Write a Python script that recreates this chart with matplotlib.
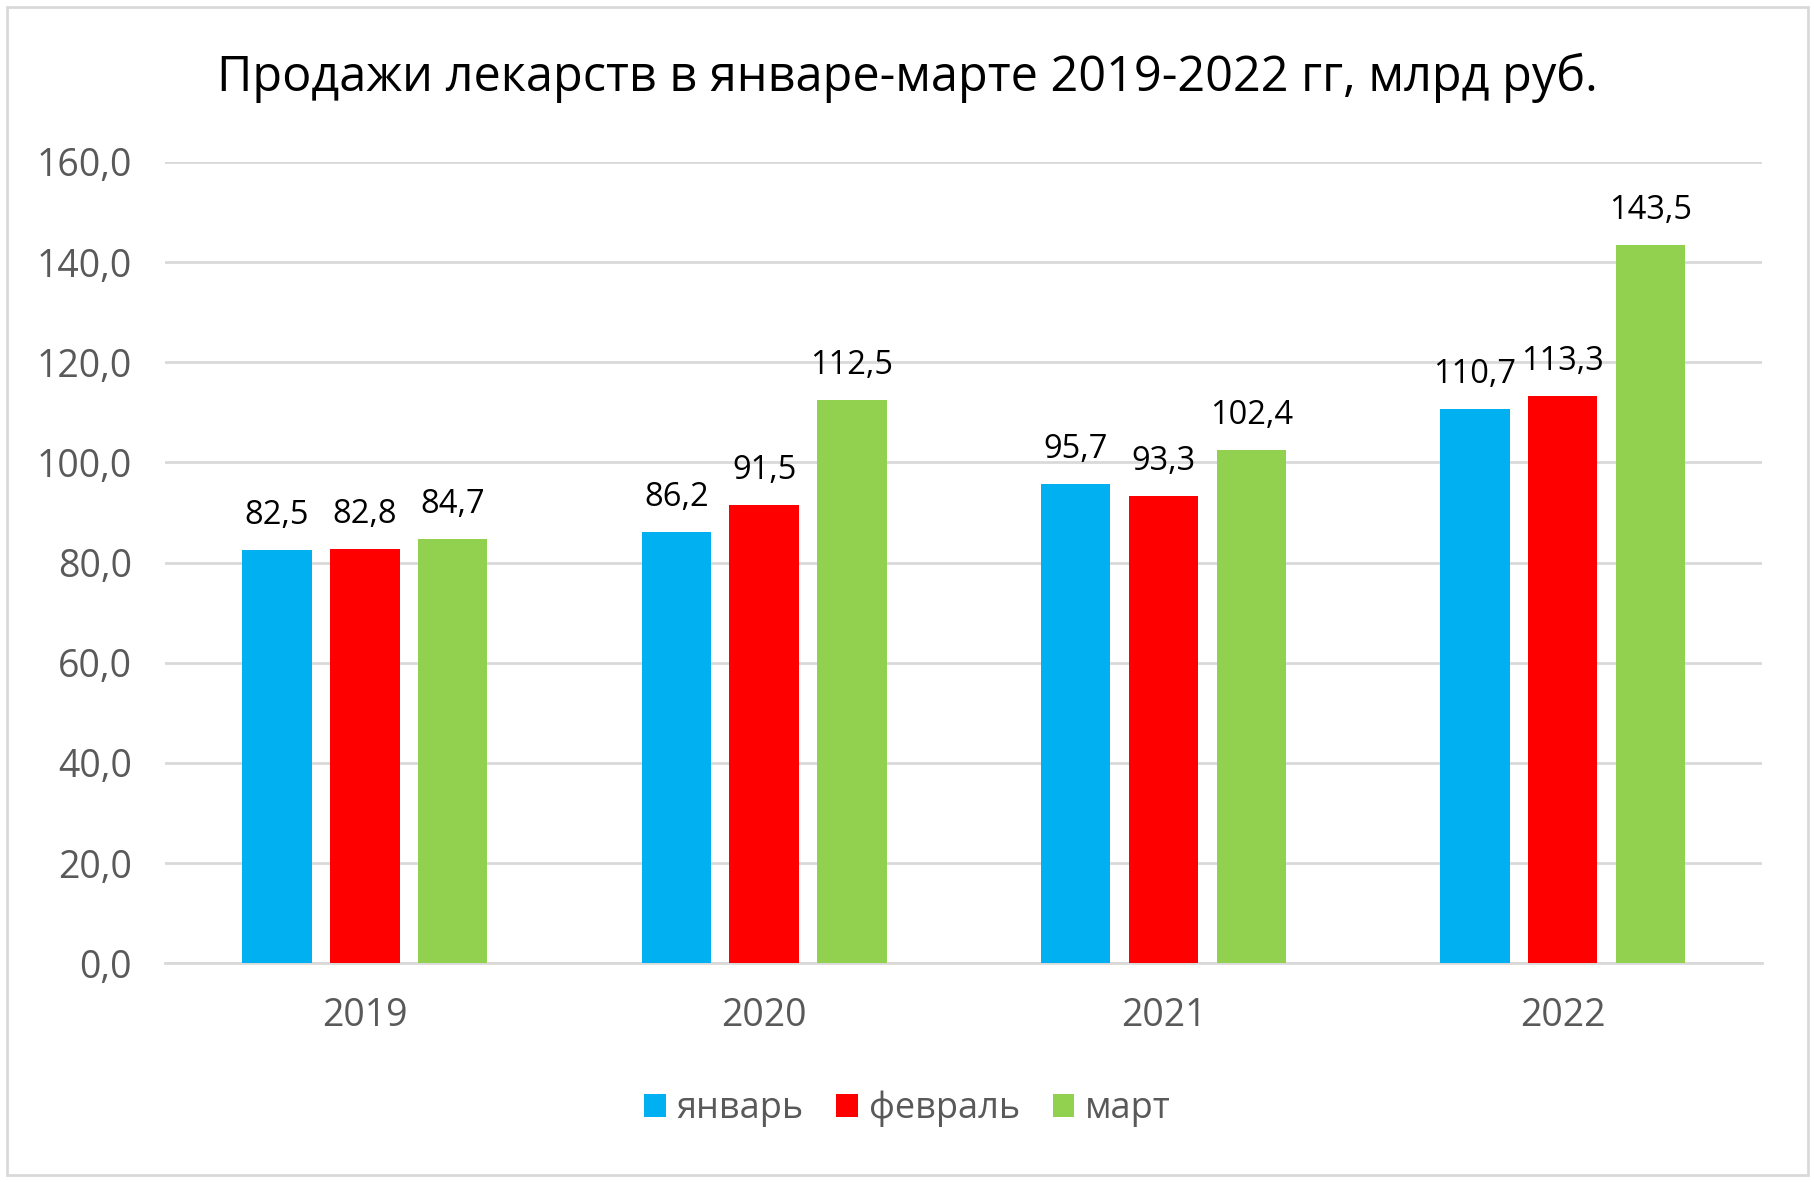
import numpy as np
import matplotlib.pyplot as plt
from matplotlib.patches import Rectangle

# Sales data, bln rub
years = ['2019', '2020', '2021', '2022']
months = ['январь', 'февраль', 'март']
jan = [82.5, 86.2, 95.7, 110.7]
feb = [82.8, 91.5, 93.3, 113.3]
mar = [84.7, 112.5, 102.4, 143.5]
colors = ['#00B0F0', '#FF0000', '#92D050']

plt.rcParams['font.family'] = ['Open Sans', 'DejaVu Sans']

fig = plt.figure(figsize=(18.15, 11.82), dpi=100)
ax = fig.add_axes([0.091, 0.185, 0.88, 0.678])

x = np.arange(len(years))
width = 0.174
step = 0.22
for i, (vals, name, col) in enumerate(zip([jan, feb, mar], months, colors)):
    pos = x + (i - 1) * step
    bars = ax.bar(pos, vals, width, color=col, label=name, zorder=3)
    for b, v in zip(bars, vals):
        ax.annotate(f'{v:.1f}'.replace('.', ','), (b.get_x() + b.get_width() / 2, v),
                    xytext=(0, 13), textcoords='offset points',
                    ha='center', va='bottom', fontsize=23.5, color='black')

ax.set_xlim(-0.5, 3.5)
ax.set_ylim(0, 160)
ax.set_yticks(np.arange(0, 161, 20))
ax.set_yticklabels([f'{v:.1f}'.replace('.', ',') for v in np.arange(0, 161, 20)])
ax.set_xticks(x)
ax.set_xticklabels(years)
ax.tick_params(axis='both', length=0, labelsize=27, colors='#595959')
ax.tick_params(axis='x', pad=24)
ax.tick_params(axis='y', pad=24)
ax.grid(axis='y', color='#D9D9D9', linewidth=2, zorder=0)
for s in ['top', 'right', 'left']:
    ax.spines[s].set_visible(False)
ax.spines['bottom'].set_color('#D9D9D9')
ax.spines['bottom'].set_linewidth(2)

fig.suptitle('Продажи лекарств в январе-марте 2019-2022 гг, млрд руб.',
             y=0.955, fontsize=35, color='black')

leg = fig.legend(loc='center', bbox_to_anchor=(0.5, 0.062), ncol=3, frameon=False,
                 fontsize=26, handlelength=0.6, handleheight=0.6,
                 handletextpad=0.3, columnspacing=0.9)
for t in leg.get_texts():
    t.set_color('#595959')

fig.patches.append(Rectangle((0.004, 0.006), 0.992, 0.988, transform=fig.transFigure,
                             fill=False, edgecolor='#D9D9D9', linewidth=2))

fig.savefig('out.png', dpi=100)
